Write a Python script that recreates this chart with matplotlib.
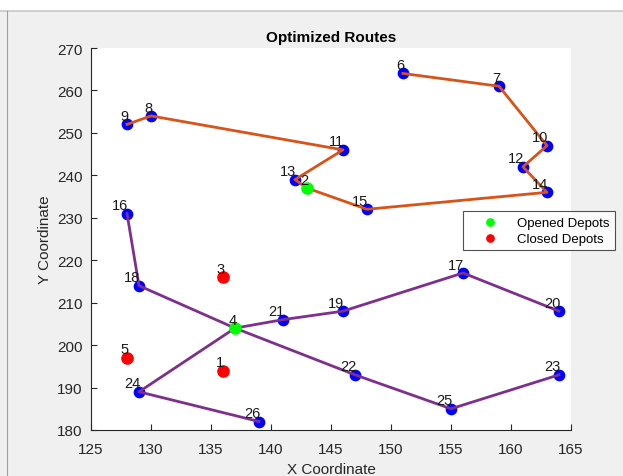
import matplotlib.pyplot as plt
from matplotlib.patches import Rectangle
from matplotlib.lines import Line2D

plt.rcParams['font.family'] = ['Liberation Sans', 'DejaVu Sans']

# customer nodes
cust_id = [6, 7, 8, 9, 10, 11, 12, 13, 14, 15, 16, 17, 18, 19, 20, 21, 22, 23, 24, 25, 26]
cust_x = [151, 159, 130, 128, 163, 146, 161, 142, 163, 148, 128, 156, 129, 146, 164, 141, 147, 164, 129, 155, 139]
cust_y = [264, 261, 254, 252, 247, 246, 242, 239, 236, 232, 231, 217, 214, 208, 208, 206, 193, 193, 189, 185, 182]

# depots
depot_id = [1, 2, 3, 4, 5]
depot_x = [136, 143, 136, 137, 128]
depot_y = [194, 237, 216, 204, 197]
depot_open = [False, True, False, True, False]

# routes, per opened depot
routes_2 = [[2, 13, 11, 8, 9], [2, 15, 14, 12, 10, 7, 6]]
routes_4 = [[4, 18, 16], [4, 21, 19, 17, 20], [4, 22, 25, 23], [4, 24, 26]]

pos = {}
for i, x, y in zip(cust_id, cust_x, cust_y):
    pos[i] = (x, y)
for i, x, y in zip(depot_id, depot_x, depot_y):
    pos[i] = (x, y)

fig = plt.figure(figsize=(6.23, 4.77), dpi=100, facecolor='#f0f0f0')
# window frame look
fig.patches.append(Rectangle((0, 1 - 12 / 477), 1, 12 / 477, transform=fig.transFigure,
                             facecolor='white', edgecolor='none', zorder=-1))
fig.lines.append(Line2D([0, 1], [1 - 12 / 477] * 2, transform=fig.transFigure, color='#c8c8c8', lw=1.2))
fig.lines.append(Line2D([6.5 / 623] * 2, [0, 1 - 12 / 477], transform=fig.transFigure, color='#a0a0a0', lw=0.8))

ax = fig.add_axes([91 / 623, 1 - 431 / 477, 480 / 623, 382 / 477])
ax.set_facecolor('white')

ax.scatter(cust_x, cust_y, s=55, color='blue', zorder=2)

for r in routes_2:
    ax.plot([pos[i][0] for i in r], [pos[i][1] for i in r], color='#D95319', lw=2, zorder=3)
for r in routes_4:
    ax.plot([pos[i][0] for i in r], [pos[i][1] for i in r], color='#7E2F8E', lw=2, zorder=3)

ox = [x for x, o in zip(depot_x, depot_open) if o]
oy = [y for y, o in zip(depot_y, depot_open) if o]
cx = [x for x, o in zip(depot_x, depot_open) if not o]
cy = [y for y, o in zip(depot_y, depot_open) if not o]
ax.scatter(ox, oy, s=65, color='#00ff00', zorder=4, label='Opened Depots')
ax.scatter(cx, cy, s=65, color='red', zorder=4, label='Closed Depots')

for i, (x, y) in pos.items():
    ax.annotate(str(i), (x, y), xytext=(1, 1), textcoords='offset points',
                ha='right', va='bottom', fontsize=10.5, color='#1a1a1a', zorder=5)

ax.set_xlim(125, 165)
ax.set_ylim(180, 270)
ax.set_xticks(range(125, 166, 5))
ax.set_yticks(range(180, 271, 10))
ax.tick_params(direction='in', length=4, labelsize=11, colors='#262626', width=0.8)
ax.tick_params(axis='x', pad=9)
ax.tick_params(axis='y', pad=6)
for s in ['top', 'right']:
    ax.spines[s].set_visible(False)
for s in ['left', 'bottom']:
    ax.spines[s].set_color('#262626')
    ax.spines[s].set_linewidth(0.8)

ax.set_xlabel('X Coordinate', fontsize=11, color='#262626', labelpad=4)
ax.set_ylabel('Y Coordinate', fontsize=11, color='#262626', labelpad=4)
ax.set_title('Optimized Routes', fontsize=11, fontweight='bold', pad=5)

leg = ax.legend(loc='upper left', bbox_to_anchor=(463 / 623, 1 - 212 / 477), bbox_transform=fig.transFigure,
                fontsize=9.5, frameon=True, fancybox=False, edgecolor='#262626', markerscale=0.65,
                handletextpad=0.4, borderpad=0.4, labelspacing=0.3, handlelength=3.3, borderaxespad=0)
leg.get_frame().set_linewidth(0.8)

plt.savefig('out.png', dpi=100, facecolor=fig.get_facecolor())
